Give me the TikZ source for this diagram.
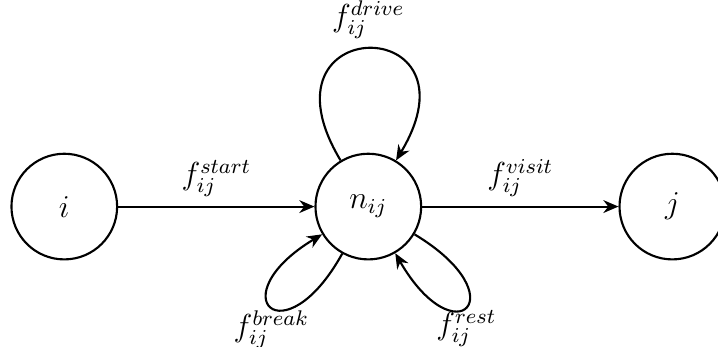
\documentclass[tikz,border=0pt]{standalone}
\usepackage{amsmath}
\usetikzlibrary{arrows.meta, positioning}

\begin{document}
\begin{tikzpicture}[
    node distance=2.6cm,
    loc/.style={circle, draw, thick, minimum size=1.4cm, inner sep=0pt,
                font=\large},
    flow/.style={-{Stealth[length=2mm, width=1.7mm]}, thick},
    lbl/.style={font=\large},
  ]
    \useasboundingbox (-4.88,-1.86) rectangle (4.633,2.737);

    \node[loc] (n) {$n_{ij}$};
    \node[loc, left=of n] (i) {$i$};
    \node[loc, right=of n] (j) {$j$};

    % straight flows
    \draw[flow] (i) -- node[lbl, above] {$f_{ij}^{start}$} (n);
    \draw[flow] (n) -- node[lbl, above] {$f_{ij}^{visit}$} (j);

    % self loops
    \draw[flow] (n.121) .. controls +(121:2.3) and +(59:2.3) .. (n.59)
      node[lbl, pos=0.5, above] {$f_{ij}^{drive}$};
    \draw[flow] (n.241) .. controls +(241:1.6) and +(211:1.6) .. (n.211)
      node[lbl, pos=0.5, below, inner sep=1pt] {$f_{ij}^{break}$};
    \draw[flow] (n.329) .. controls +(329:1.6) and +(300:1.6) .. (n.300)
      node[lbl, pos=0.5, below, inner sep=1pt] {$f_{ij}^{rest}$};
  \end{tikzpicture}
\end{document}
